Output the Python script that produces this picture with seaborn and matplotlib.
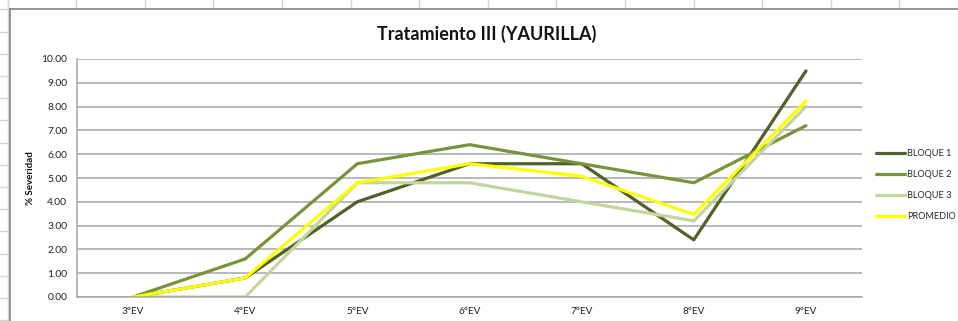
import matplotlib
matplotlib.use("Agg")
import matplotlib.pyplot as plt
from matplotlib.lines import Line2D
import seaborn as sns
import pandas as pd

# Evaluation stages and severity (%) per block
etapas = ["3°EV", "4°EV", "5°EV", "6°EV", "7°EV", "8°EV", "9°EV"]
bloque_1 = [0.0, 0.8, 4.0, 5.6, 5.6, 2.4, 9.5]
bloque_2 = [0.0, 1.6, 5.6, 6.4, 5.6, 4.8, 7.2]
bloque_3 = [0.0, 0.0, 4.8, 4.8, 4.0, 3.2, 8.0]
promedio = [0.0, 0.8, 4.8, 5.6, 5.07, 3.47, 8.23]

series = {
    "BLOQUE 1": bloque_1,
    "BLOQUE 2": bloque_2,
    "BLOQUE 3": bloque_3,
    "PROMEDIO": promedio,
}
colores = {
    "BLOQUE 1": "#4F6228",
    "BLOQUE 2": "#77933C",
    "BLOQUE 3": "#C3D69B",
    "PROMEDIO": "#FFFF00",
}

df = pd.DataFrame(
    [(nombre, i, v) for nombre, vals in series.items() for i, v in enumerate(vals)],
    columns=["serie", "pos", "valor"],
)

sns.set_style("white")
plt.rcParams["font.family"] = ["Lato", "DejaVu Sans"]

W, H = 958, 321
fig = plt.figure(figsize=(W / 100, H / 100), dpi=100)
fig.patch.set_facecolor("white")

# Spreadsheet cell grid around the embedded chart
cell = "#D4D4D4"
for x in [7.5 + 68.6 * k for k in range(15)]:
    fig.add_artist(Line2D([x / W, x / W], [1, 1 - 9 / H], color=cell, lw=1))
for y in [9.4 + 22.2 * k for k in range(15)]:
    fig.add_artist(Line2D([0, 7.5 / W], [1 - y / H, 1 - y / H], color=cell, lw=1))
fig.add_artist(Line2D([7.5 / W, 7.5 / W], [0, 1], color=cell, lw=1))
# Chart frame
frame = "#8C8C8C"
fig.add_artist(Line2D([9.5 / W, 9.5 / W], [0, 1 - 9 / H], color=frame, lw=1.3))
fig.add_artist(Line2D([9.5 / W, 1], [1 - 9 / H, 1 - 9 / H], color=frame, lw=1.3))

left, right, top, bottom = 77, 862, 59, 297
ax = fig.add_axes([left / W, 1 - bottom / H, (right - left) / W, (bottom - top) / H])

sns.lineplot(
    data=df, x="pos", y="valor", hue="serie", palette=colores,
    linewidth=2.3, sort=False, ax=ax, legend=False,
)

ax.set_xlim(-0.5, len(etapas) - 0.5)
ax.set_ylim(0, 10)
ax.set_yticks(range(0, 11))
ax.set_yticklabels([f"{v:.2f}" for v in range(0, 11)], fontsize=7.4, color="#222222")
ax.set_xticks(range(len(etapas)))
ax.set_xticklabels(etapas, fontsize=7.2, color="#222222")
ax.tick_params(axis="both", length=0, pad=7)
ax.yaxis.grid(True, color="#A6A6A6", lw=1.1)
ax.set_axisbelow(True)
for side in ["top", "right"]:
    ax.spines[side].set_visible(False)
ax.spines["left"].set_color("#A6A6A6")
ax.spines["bottom"].set_color("#A6A6A6")
ax.spines["left"].set_linewidth(1.1)
ax.spines["bottom"].set_linewidth(1.1)
ax.set_xlabel("")
ax.set_ylabel("")
fig.text(31 / W, 1 - 178 / H, "% Severidad", rotation=90, ha="center", va="center",
         fontsize=7, fontweight="bold", color="#111111")

fig.text(487 / W, 1 - 34 / H, "Tratamiento III (YAURILLA)", ha="center", va="center",
         fontsize=13, fontweight="bold", color="#111111")

handles = [Line2D([], [], color=colores[n], lw=2.3) for n in series]
fig.legend(handles, list(series.keys()), loc="upper left",
           bbox_to_anchor=(876 / W, 1 - 149 / H), frameon=False, fontsize=6.6,
           handlelength=3.2, handletextpad=0.15, labelspacing=1.3, borderaxespad=0,
           borderpad=0)

fig.savefig("out.png", dpi=100, facecolor="white")
